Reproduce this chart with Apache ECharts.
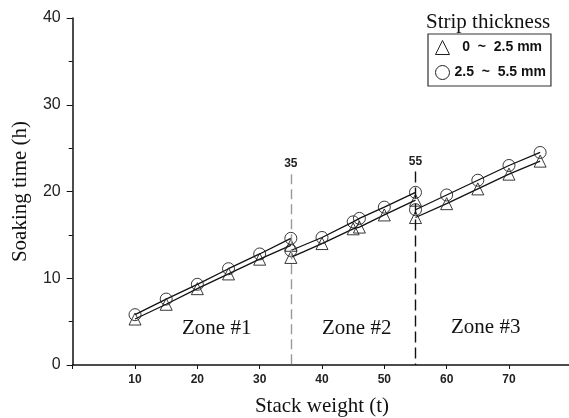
<!DOCTYPE html>
<html>
<head>
<meta charset="utf-8">
<script src="https://cdn.jsdelivr.net/npm/echarts@6/dist/echarts.min.js"></script>
<style>html,body{margin:0;padding:0;background:#fff;}#c{width:569px;height:418px;}</style>
</head>
<body>
<div id="c"></div>
<script>
const zone1X = [10, 15, 20, 25, 30, 35];
const zone1Tri = [5.3, 7.0, 8.8, 10.5, 12.2, 13.8];
const zone1Cir = [5.8, 7.6, 9.3, 11.1, 12.8, 14.6];
const zone2X = [35, 40, 45, 46, 50, 55];
const zone2Tri = [12.4, 14.0, 15.7, 15.9, 17.3, 19.0];
const zone2Cir = [13.2, 14.7, 16.5, 16.9, 18.2, 19.9];
const zone3X = [55, 60, 65, 70, 75];
const zone3Tri = [17.0, 18.6, 20.3, 22.0, 23.5];
const zone3Cir = [17.9, 19.6, 21.3, 23.0, 24.5];
const xTicks = [10, 20, 30, 40, 50, 60, 70];
const yTicks = [0, 10, 20, 30, 40];
const boundaries = [35, 55];
const zoneNames = ['Zone #1', 'Zone #2', 'Zone #3'];
const legendNames = ['0 ~ 2.5 mm', '2.5 ~ 5.5 mm'];

const serif = '"Liberation Serif", "DejaVu Serif", serif';
const sans = '"Liberation Sans", Arial, sans-serif';

function pairs(xs, ys) { return xs.map((x, i) => [x, ys[i]]); }

function lineSeries(name, xs, ys, symbol, size) {
  return {
    type: 'line', name: name, data: pairs(xs, ys),
    symbol: symbol, symbolSize: size,
    lineStyle: { color: '#111', width: 1.3 },
    itemStyle: { color: 'rgba(255,255,255,0)', borderColor: '#222', borderWidth: 0.9 },
    z: 3
  };
}

const series = [
  lineSeries(legendNames[0], zone1X, zone1Tri, 'triangle', 12),
  lineSeries(legendNames[1], zone1X, zone1Cir, 'circle', 12),
  lineSeries(legendNames[0], zone2X, zone2Tri, 'triangle', 12),
  lineSeries(legendNames[1], zone2X, zone2Cir, 'circle', 12),
  lineSeries(legendNames[0], zone3X, zone3Tri, 'triangle', 12),
  lineSeries(legendNames[1], zone3X, zone3Cir, 'circle', 12)
];

series.push({
  type: 'line', data: [], silent: true,
  markLine: {
    symbol: 'none', silent: true,
    label: { show: true, position: 'start', fontFamily: sans, fontWeight: 'bold', fontSize: 12, color: '#222', distance: 4 },
    data: [
      [{ coord: [boundaries[0], 22.0], lineStyle: { color: '#999', type: [10, 5], width: 1.4 }, label: { formatter: String(boundaries[0]) } },
       { coord: [boundaries[0], 0] }],
      [{ coord: [boundaries[1], 22.3], lineStyle: { color: '#111', type: [11, 5], width: 1.4 }, label: { formatter: String(boundaries[1]) } },
       { coord: [boundaries[1], 0] }]
    ]
  }
});

const chart = echarts.init(document.getElementById('c'), null, { renderer: 'canvas' });
chart.setOption({
  animation: false,
  backgroundColor: '#fff',
  title: {
    text: 'Strip thickness', left: 421, top: 7,
    textStyle: { fontFamily: serif, fontSize: 21, fontWeight: 'normal', color: '#111' }
  },
  legend: {
    orient: 'vertical', left: 428, top: 34,
    padding: [6, 5, 6, 7], itemGap: 10,
    itemWidth: 14, itemHeight: 14,
    borderColor: '#333', borderWidth: 1.2,
    data: [{ name: legendNames[0], icon: 'triangle' }, { name: legendNames[1], icon: 'circle' }],
    itemStyle: { color: '#fff', borderColor: '#222', borderWidth: 1 },
    formatter: function (n) {
      const s = n.replace(' ~ ', '  ~  ');
      return n === legendNames[0] ? '  ' + s : s;
    },
    textStyle: { fontFamily: sans, fontWeight: 'bold', fontSize: 14, color: '#111' }
  },
  grid: { left: 72.7, right: -2.3, top: 18, bottom: 53, containLabel: false, outerBoundsMode: 'none' },
  xAxis: {
    type: 'value', min: 0, max: 80, interval: 10,
    name: 'Stack weight (t)', nameLocation: 'middle', nameGap: 31,
    nameTextStyle: { fontFamily: serif, fontSize: 21, color: '#111' },
    axisLine: { lineStyle: { color: '#111', width: 1.5 } },
    axisTick: { show: true, length: 4, lineStyle: { color: '#111' } },
    axisLabel: {
      margin: 9, fontFamily: sans, fontWeight: 'bold', fontSize: 12, color: '#222',
      formatter: function (v) { return xTicks.indexOf(v) >= 0 ? String(v) : ''; }
    },
    splitLine: { show: false }
  },
  yAxis: {
    type: 'value', min: 0, max: 40, interval: 10,
    name: 'Soaking time (h)', nameLocation: 'middle', nameGap: 42,
    nameTextStyle: { fontFamily: serif, fontSize: 21, color: '#111' },
    axisLine: { show: true, lineStyle: { color: '#111', width: 1.5 } },
    axisTick: { show: true, length: 6, lineStyle: { color: '#111' } },
    minorTick: { show: true, splitNumber: 2, length: 4, lineStyle: { color: '#111' } },
    axisLabel: {
      margin: 12, fontFamily: sans, fontSize: 16, color: '#222',
      formatter: function (v) { return yTicks.indexOf(v) >= 0 ? String(v) : ''; }
    },
    splitLine: { show: false }
  },
  graphic: [
    { type: 'text', left: 182, top: 318, style: { text: zoneNames[0], font: '21px ' + serif, fill: '#111' } },
    { type: 'text', left: 322, top: 318, style: { text: zoneNames[1], font: '21px ' + serif, fill: '#111' } },
    { type: 'text', left: 451, top: 317, style: { text: zoneNames[2], font: '21px ' + serif, fill: '#111' } }
  ],
  series: series
});
</script>
</body>
</html>
